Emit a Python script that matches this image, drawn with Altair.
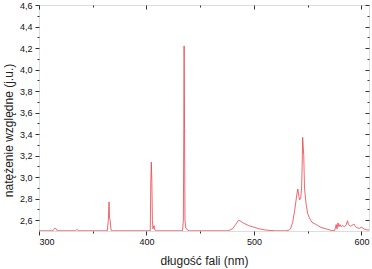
import altair as alt
import pandas as pd

# wavelength (nm) and relative intensity
wavelength = [300, 313, 314.5, 315.5, 317, 334, 335.5, 337,
              363.5, 364.5, 365.2, 365.6, 366.2, 367, 368,
              403.5, 404.0, 404.5, 405.0, 405.5, 406, 407, 407.8, 409,
              433.5, 434.3, 434.7, 435.0, 435.4, 435.8, 436.5, 438, 440,
              476, 480, 483, 485.5, 487, 490, 495, 500, 505, 510, 515, 520,
              530, 533, 534, 536, 538, 540, 540.8, 541.8, 542.5, 543.5, 544.3,
              544.8, 545.3, 546.3, 547, 548.5, 550, 551.6, 554, 557.8, 562, 567, 572,
              575, 576.5, 577.2, 578.2, 579, 580, 581, 582.5, 584, 585.5, 587, 588,
              589.5, 591, 593, 594.5, 596, 598, 600, 601.5, 603, 605, 607]
intensity = [2.502, 2.502, 2.525, 2.525, 2.502, 2.502, 2.515, 2.502,
             2.502, 2.6, 2.77, 2.62, 2.6, 2.51, 2.502,
             2.502, 2.95, 3.14, 2.95, 2.6, 2.52, 2.55, 2.51, 2.502,
             2.502, 2.6, 3.45, 4.22, 3.45, 2.6, 2.53, 2.51, 2.502,
             2.502, 2.52, 2.56, 2.6, 2.595, 2.575, 2.55, 2.535, 2.52, 2.51, 2.505, 2.502,
             2.502, 2.51, 2.52, 2.58, 2.7, 2.85, 2.89, 2.82, 2.79, 2.81, 2.9,
             3.1, 3.37, 3.2, 2.9, 2.75, 2.66, 2.62, 2.58, 2.56, 2.535, 2.52, 2.505,
             2.502, 2.56, 2.52, 2.575, 2.54, 2.56, 2.54, 2.55, 2.54, 2.55, 2.595, 2.56,
             2.545, 2.55, 2.565, 2.54, 2.53, 2.525, 2.535, 2.525, 2.515, 2.51, 2.51]

x_ticks = [300, 350, 400, 450, 500, 550, 600]
y_ticks = [2.6, 2.7, 2.8, 2.9, 3.0, 3.1, 3.2, 3.3, 3.4, 3.5, 3.6, 3.7, 3.8,
           3.9, 4.0, 4.1, 4.2, 4.3, 4.4, 4.5, 4.6]

df = pd.DataFrame({"nm": wavelength, "val": intensity})

W, H = 330, 226
FONT = "Liberation Sans"
TICK = "#333333"

x_major = {"condition": {"test": "datum.value % 100 == 0", "value": 4}, "value": 2}
y_major = {"condition": {"test": "round(datum.value * 10) % 2 == 0", "value": 4}, "value": 2}

x_scale = alt.Scale(domain=[300, 607], nice=False, zero=False)
y_scale = alt.Scale(domain=[2.5, 4.6], nice=False, zero=False)

main = alt.Chart(df).mark_line(color="#e8434a", strokeWidth=0.8, clip=True).encode(
    x=alt.X("nm:Q", scale=x_scale,
            axis=alt.Axis(orient="bottom", values=x_ticks, tickSize=x_major,
                          labelExpr="datum.value % 100 == 0 ? datum.label : ''",
                          domain=False, grid=False, tickColor=TICK, labelPadding=2,
                          labelFont=FONT, labelFontSize=9, labelColor="#111111",
                          title="długość fali (nm)", titleFont=FONT, titleFontSize=12,
                          titleFontWeight="normal", titleColor="#222222",
                          titleY=33, titleBaseline="alphabetic")),
    y=alt.Y("val:Q", scale=y_scale,
            axis=alt.Axis(orient="left", values=y_ticks, tickSize=y_major,
                          labelExpr="round(datum.value * 10) % 2 == 0 ? replace(format(datum.value, '.1f'), '.', ',') : ''",
                          domain=False, grid=False, tickColor=TICK, labelPadding=3,
                          labelFont=FONT, labelFontSize=9, labelColor="#111111",
                          title="natężenie względne (j.u.)", titleFont=FONT, titleFontSize=12,
                          titleFontWeight="normal", titleColor="#222222",
                          titleX=-31, titleY=125, titleBaseline="middle", titleAngle=270)),
)

mirror = alt.Chart(df).mark_line(strokeOpacity=0, clip=True).encode(
    x=alt.X("nm:Q", scale=x_scale,
            axis=alt.Axis(orient="bottom", offset=-H, values=x_ticks, tickSize=x_major,
                          labels=False, domain=False, grid=False, tickColor=TICK, title="")),
    y=alt.Y("val:Q", scale=y_scale,
            axis=alt.Axis(orient="left", offset=-W, values=y_ticks, tickSize=y_major,
                          labels=False, domain=False, grid=False, tickColor=TICK, title="")),
)

chart = alt.layer(main, mirror).resolve_axis(x="independent", y="independent").properties(
    width=W, height=H,
    autosize=alt.AutoSizeParams(type="none"),
    padding={"left": 39, "top": 5, "right": 3, "bottom": 38},
).configure_view(stroke="#808080", strokeWidth=1).configure(background="white")

chart.save("out.html", embed_options={"renderer": "svg", "actions": False})
